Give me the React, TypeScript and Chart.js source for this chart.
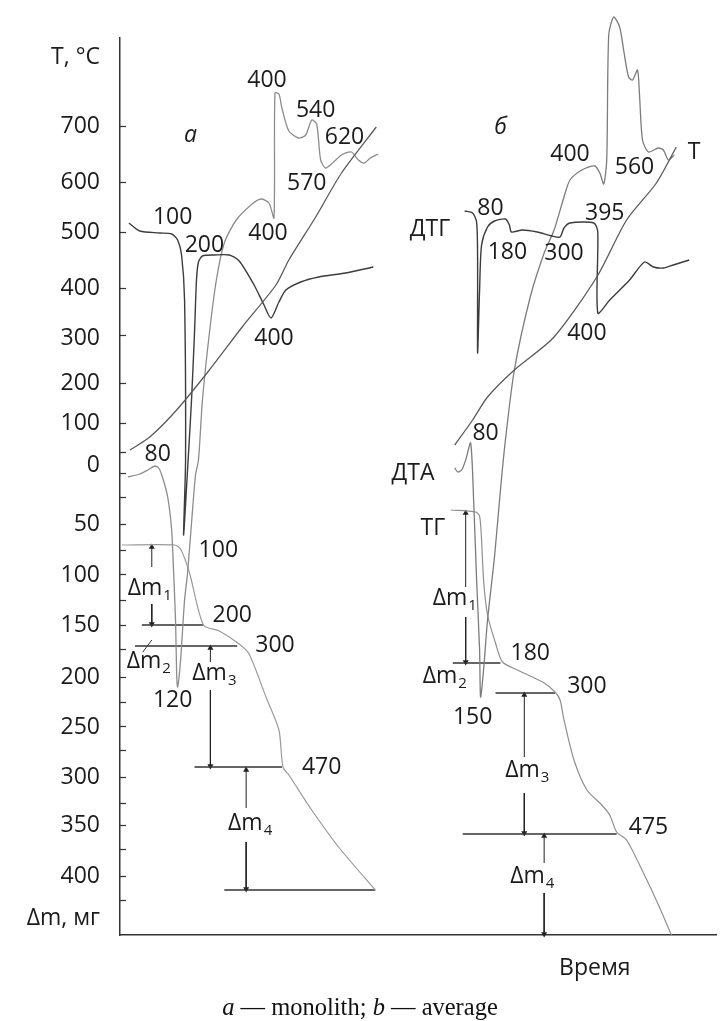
import React, { useEffect, useRef } from 'react';
import { Chart, registerables } from 'chart.js';

Chart.register(...registerables);

type Pt = [number, number];
type Lbl = [string, number, number];

// x: time (arbitrary units, 0..600); y: vertical level on the drawn axis (mass scale, mg, downward)

// ---- Panel a (monolith) ----
const tempA: Pt[] = [[10, -23], [30, -36], [57, -63], [90, -103], [123, -146], [157, -188], [170, -213], [197, -256], [223, -300], [258, -346]];
const dtgA: Pt[] = [[9, -250], [20, -242], [40, -240], [52, -239], [58, -233], [62, -218], [65, -173], [66, -13], [64, 62], [68, -3], [72, -73], [75, -140], [77, -193], [79, -211], [83, -217], [95, -218], [110, -218], [120, -212], [135, -188], [145, -168], [152, -155], [160, -171], [167, -183], [182, -191], [200, -196], [227, -200], [255, -206]];
const dtaA: Pt[] = [[8, 4], [20, 1], [28, -3], [35, -7], [39, -5], [43, 5], [48, 24], [52, 57], [54, 100], [56, 150], [57, 200], [58, 214], [61, 187], [65, 127], [68, 100], [72, 50], [76, 2], [79, -13], [83, -73], [90, -140], [97, -193], [105, -230], [117, -253], [133, -269], [142, -274], [150, -270], [155, -255], [156, -380], [160, -379], [163, -365], [170, -342], [180, -335], [187, -338], [193, -353], [198, -349], [202, -313], [207, -305], [215, -311], [223, -318], [233, -321], [240, -313], [246, -310], [252, -315], [260, -319]];
const tgA: Pt[] = [[2, 72], [55, 72], [61, 76], [70, 100], [84, 152], [100, 158], [120, 171], [130, 181], [147, 224], [160, 257], [164, 294], [170, 302], [193, 337], [220, 374], [257, 417]];

// ---- Panel b (average) ----
const tempB: Pt[] = [[337, -28], [355, -53], [370, -76], [397, -103], [437, -136], [480, -196], [510, -253], [540, -290], [560, -326]];
const dtgB: Pt[] = [[347, -262], [355, -260], [359, -251], [360, -213], [360, -120], [362, -183], [364, -228], [370, -246], [377, -252], [388, -254], [392, -248], [394, -241], [405, -243], [420, -241], [435, -237], [443, -236], [447, -245], [453, -250], [477, -250], [481, -241], [481, -160], [493, -173], [513, -193], [528, -211], [537, -206], [547, -205], [557, -208], [573, -213]];
const dtaB: Pt[] = [[337, -5], [340, -1], [344, -3], [348, -13], [353, -30], [356, 27], [359, 107], [362, 177], [363, 224], [366, 197], [370, 147], [377, 84], [383, 17], [388, -33], [397, -103], [413, -176], [427, -220], [437, -243], [447, -276], [453, -293], [465, -303], [478, -307], [483, -300], [487, -289], [490, -313], [492, -438], [497, -456], [503, -446], [507, -423], [512, -396], [516, -393], [521, -403], [523, -378], [526, -333], [532, -321], [542, -325], [547, -323], [552, -313], [558, -318]];
const tgB: Pt[] = [[333, 37], [358, 39], [362, 43], [364, 67], [366, 107], [370, 142], [378, 170], [385, 189], [400, 197], [427, 210], [438, 219], [443, 227], [447, 247], [457, 287], [470, 317], [485, 332], [493, 342], [500, 359], [510, 367], [527, 400], [543, 434], [555, 462]];

// mass-loss step levels: [level, xStart, xEnd]
const stepLinesA: [number, number, number][] = [[152, 22, 84], [173, 15, 118], [294, 75, 163], [417, 105, 257]];
const stepLinesB: [number, number, number][] = [[190, 335, 383], [220, 378, 438], [361, 345, 500]];
const slashMark: Pt[] = [[23, 179], [32, 167]];

// Δm arrows: [x, tail, head]
const arrowsA: [number, number, number][] = [[32, 94, 74], [32, 131, 151], [91, 189, 175], [91, 217, 293], [127, 335, 297], [127, 369, 416]];
const arrowsB: [number, number, number][] = [[348, 114, 40], [348, 144, 189], [407, 284, 222], [407, 320, 360], [427, 390, 363], [427, 420, 461]];

// axis
const tickMarkLevels = [-347, -291, -241, -185, -138, -90, -50, -21, 0, 24, 51, 77, 101, 127, 152, 176, 204, 229, 253, 277, 304, 330, 352, 376, 403, 427];
const tickLabelLevels = [-416, -347, -291, -241, -185, -135, -90, -50, -8, 51, 102, 152, 204, 254, 304, 352, 403, 445];
const tickLabels = ['T, °C', '700', '600', '500', '400', '300', '200', '100', '0', '50', '100', '150', '200', '250', '300', '350', '400', 'Δm, мг'];

// annotations (temperatures at characteristic points)
const tempLabelsA: Lbl[] = [['100', 53, -256], ['200', 85, -228], ['400', 148, -393], ['540', 197, -363], ['620', 226, -336], ['570', 188, -290], ['400', 149, -240], ['400', 155, -135], ['80', 38, -19], ['100', 99, 77], ['200', 113, 142], ['300', 156, 172], ['120', 53, 227], ['470', 203, 294]];
const tempLabelsB: Lbl[] = [['400', 453, -319], ['560', 518, -306], ['80', 373, -265], ['395', 488, -260], ['180', 390, -221], ['300', 447, -220], ['400', 470, -140], ['80', 368, -40], ['180', 413, 180], ['300', 470, 213], ['150', 355, 244], ['475', 532, 354]];
const curveNames: Lbl[] = [['Т', 578, -321], ['ДТГ', 312, -244], ['ДТА', 295, 0], ['ТГ', 315, 55], ['Время', 478, 495]];
const deltaLabels: Lbl[] = [['1', 30, 117], ['2', 29, 190], ['3', 95, 202], ['4', 131, 352], ['1', 337, 127], ['2', 327, 205], ['3', 410, 299], ['4', 415, 405]];
const panelLetters: Lbl[] = [['a', 71, -338], ['б', 383, -346]];

const FONT = '"Open Sans", "DejaVu Sans", sans-serif';
const TEXT = '#1b1b1b';
const FS = 23;

const line = (data: Pt[], color: string, width: number, tension = 0.25) => ({
  data: data.map(([x, y]) => ({ x, y })),
  showLine: true,
  borderColor: color,
  borderWidth: width,
  pointRadius: 0,
  tension,
  fill: false,
  clip: false as const,
});

const arrow = ([x, tail, head]: [number, number, number]) => ({
  data: [{ x, y: tail }, { x, y: head }],
  showLine: true,
  borderColor: '#222',
  borderWidth: 1,
  tension: 0,
  pointRadius: [0, 3.5],
  pointStyle: 'triangle',
  pointRotation: head < tail ? 0 : 180,
  pointBackgroundColor: '#222',
  pointBorderColor: '#222',
  pointBorderWidth: 0,
  clip: false as const,
});

const hLine = ([lvl, x0, x1]: [number, number, number]) => line([[x0, lvl], [x1, lvl]], '#333', 1.3, 0);

const textPlugin = {
  id: 'thermoTexts',
  afterDatasetsDraw(chart: any) {
    const { ctx } = chart;
    const xs = chart.scales.x;
    const ys = chart.scales.y;
    const px = (v: number) => xs.getPixelForValue(v);
    const py = (v: number) => ys.getPixelForValue(v);
    ctx.save();
    ctx.fillStyle = TEXT;
    ctx.textBaseline = 'middle';
    ctx.textAlign = 'center';
    ctx.font = `${FS}px ${FONT}`;
    [...tempLabelsA, ...tempLabelsB, ...curveNames].forEach(([t, x, y]) => ctx.fillText(t, px(x), py(y)));
    ctx.font = `italic ${FS}px ${FONT}`;
    panelLetters.forEach(([t, x, y]) => ctx.fillText(t, px(x), py(y)));
    deltaLabels.forEach(([sub, x, y]) => {
      ctx.font = `${FS}px ${FONT}`;
      const w1 = ctx.measureText('Δm').width;
      ctx.font = `15px ${FONT}`;
      const w2 = ctx.measureText(sub).width;
      const left = px(x) - (w1 + w2 + 1) / 2;
      ctx.textAlign = 'left';
      ctx.font = `${FS}px ${FONT}`;
      ctx.fillText('Δm', left, py(y) - 2);
      ctx.font = `15px ${FONT}`;
      ctx.fillText(sub, left + w1 + 1, py(y) + 6);
    });
    ctx.restore();
  },
};

export default function App() {
  const ref = useRef<HTMLCanvasElement>(null);
  useEffect(() => {
    if (!ref.current) return;
    const allTicks = Array.from(new Set([...tickMarkLevels, ...tickLabelLevels])).sort((a, b) => a - b);
    const chart = new Chart(ref.current, {
      type: 'scatter',
      data: {
        datasets: [
          line(tempA, '#5a5a5a', 1.3),
          line(dtgA, '#3c3c3c', 1.4),
          line(dtaA, '#8c8c8c', 1.3),
          line(tgA, '#9a9a9a', 1.2),
          line(tempB, '#5a5a5a', 1.3),
          line(dtgB, '#3c3c3c', 1.4),
          line(dtaB, '#7c7c7c', 1.3),
          line(tgB, '#8f8f8f', 1.2),
          ...stepLinesA.map(hLine),
          ...stepLinesB.map(hLine),
          line(slashMark, '#333', 1, 0),
          ...arrowsA.map(arrow),
          ...arrowsB.map(arrow),
        ] as any,
      },
      options: {
        animation: false,
        responsive: true,
        maintainAspectRatio: false,
        events: [],
        layout: { padding: { top: 38, bottom: 86, left: 0, right: 0 } },
        plugins: { legend: { display: false }, tooltip: { enabled: false } },
        scales: {
          x: {
            type: 'linear',
            min: 0,
            max: 600,
            ticks: { display: false },
            grid: { display: false, drawTicks: false },
            border: { display: true, color: '#333', width: 1.5 },
            afterFit: (s: any) => { s.height = 0; s.paddingLeft = 0; s.paddingRight = 0; },
          },
          y: {
            type: 'linear',
            reverse: true,
            min: -435,
            max: 462,
            afterBuildTicks: (s: any) => { s.ticks = allTicks.map((v) => ({ value: v })); },
            afterFit: (s: any) => { s.width = 120; s.paddingTop = 0; s.paddingBottom = 0; },
            ticks: {
              autoSkip: false,
              padding: 26,
              color: TEXT,
              font: { family: FONT, size: FS },
              callback: (v: any) => {
                const i = tickLabelLevels.indexOf(Number(v));
                return i >= 0 ? tickLabels[i] : '';
              },
            },
            grid: {
              drawOnChartArea: false,
              tickLength: -6,
              tickWidth: 1.2,
              tickColor: (c: any) => (c.tick && tickMarkLevels.includes(c.tick.value) ? '#333' : 'rgba(0,0,0,0)'),
            },
            border: { display: true, color: '#333', width: 1.5 },
          },
        },
      } as any,
      plugins: [textPlugin],
    });
    return () => chart.destroy();
  }, []);

  return (
    <div style={{ position: 'absolute', left: 0, top: 0, width: 720, height: 1021, background: '#fff' }}>
      <canvas ref={ref} />
      <div
        style={{
          position: 'absolute',
          left: 0,
          top: 993,
          width: 720,
          textAlign: 'center',
          fontFamily: '"Liberation Serif", "Times New Roman", serif',
          fontSize: 24.5,
          color: '#111',
          lineHeight: '28px',
        }}
      >
        <i>a</i> — monolith; <i>b</i> — average
      </div>
    </div>
  );
}
